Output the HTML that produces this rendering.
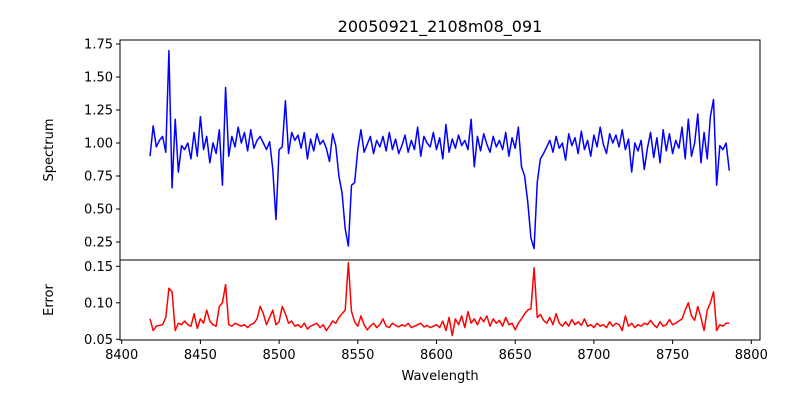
<!DOCTYPE html>
<html><head><meta charset="utf-8"><style>
html,body{margin:0;padding:0;background:#fff;}
svg{display:block;font-family:"DejaVu Sans","Liberation Sans",sans-serif;}
</style></head><body>
<svg id="chart" width="800" height="400" xmlns="http://www.w3.org/2000/svg">
<rect width="800" height="400" fill="#fff"/>
<text x="440" y="32" text-anchor="middle" font-size="16">20050921_2108m08_091</text>
<g id="topPanel"></g>
<g id="botPanel"></g>
<text transform="translate(53,150) rotate(-90)" text-anchor="middle" font-size="13">Spectrum</text>
<text transform="translate(53,300) rotate(-90)" text-anchor="middle" font-size="13">Error</text>
<text x="440" y="380" text-anchor="middle" font-size="13">Wavelength</text>
</svg>
<script>
const wlStart = 8418;
const wlStep = 2;
const spectrum = [
0.90,1.13,0.97,1.02,1.05,0.93,1.70,0.66,1.18,0.78,
0.98,0.95,1.00,0.88,1.08,0.90,1.20,0.95,1.05,0.85,
1.00,0.92,1.10,0.68,1.42,0.90,1.05,0.97,1.12,1.00,
1.08,0.94,1.10,0.96,1.02,1.05,1.00,0.95,1.01,0.80,
0.42,0.95,0.97,1.32,0.92,1.08,1.02,1.06,0.96,1.08,
0.88,1.03,0.94,1.07,0.99,1.02,0.96,0.86,1.07,0.98,
0.75,0.62,0.35,0.22,0.68,0.70,0.95,1.10,0.93,0.99,
1.05,0.92,1.02,0.97,1.05,0.94,1.08,0.95,1.03,0.92,
0.98,1.06,0.93,1.02,0.95,1.12,0.90,1.05,1.00,0.97,
1.08,0.95,1.04,0.88,1.14,0.93,1.03,0.96,1.06,0.98,
1.02,0.95,1.18,0.82,1.05,0.94,1.07,0.99,0.93,1.05,
0.97,1.02,0.95,1.08,0.90,1.04,0.96,1.12,0.82,0.75,
0.55,0.28,0.20,0.70,0.88,0.92,0.97,1.02,0.93,1.05,
0.96,1.00,0.87,1.07,0.98,1.04,0.92,1.09,0.95,1.02,
0.90,1.06,0.97,1.12,0.99,0.92,1.07,1.00,1.06,0.97,
1.10,0.95,1.03,0.78,1.00,0.94,1.02,0.80,0.96,1.08,
0.89,1.04,0.85,1.10,0.94,1.07,0.92,1.02,0.96,1.12,
0.88,1.18,0.90,1.00,1.22,0.85,1.08,0.88,1.20,1.33,
0.68,0.98,0.95,1.00,0.79];
const errors = [
0.078,0.062,0.068,0.069,0.070,0.080,0.120,0.115,0.062,0.072,
0.070,0.075,0.070,0.068,0.085,0.065,0.078,0.072,0.090,0.075,
0.070,0.068,0.095,0.100,0.125,0.070,0.068,0.072,0.070,0.068,
0.070,0.066,0.070,0.072,0.078,0.095,0.085,0.070,0.080,0.090,
0.070,0.074,0.095,0.085,0.072,0.075,0.068,0.070,0.066,0.072,
0.064,0.068,0.070,0.072,0.066,0.070,0.062,0.068,0.075,0.072,
0.080,0.085,0.090,0.155,0.088,0.074,0.068,0.082,0.070,0.063,
0.068,0.072,0.066,0.070,0.078,0.068,0.066,0.072,0.069,0.067,
0.070,0.068,0.072,0.066,0.068,0.070,0.072,0.067,0.069,0.066,
0.068,0.070,0.066,0.075,0.062,0.080,0.055,0.078,0.070,0.082,
0.066,0.088,0.072,0.078,0.070,0.080,0.074,0.082,0.068,0.078,
0.072,0.076,0.068,0.080,0.070,0.072,0.063,0.072,0.078,0.085,
0.090,0.092,0.148,0.080,0.084,0.076,0.072,0.080,0.070,0.085,
0.072,0.068,0.074,0.068,0.077,0.070,0.074,0.069,0.078,0.068,
0.070,0.066,0.072,0.068,0.070,0.066,0.074,0.068,0.072,0.070,
0.062,0.082,0.068,0.072,0.066,0.070,0.068,0.072,0.070,0.076,
0.070,0.066,0.074,0.068,0.070,0.077,0.070,0.072,0.075,0.078,
0.090,0.100,0.082,0.076,0.095,0.080,0.062,0.090,0.100,0.115,
0.062,0.070,0.068,0.072,0.072];
const xTicks = [8400,8450,8500,8550,8600,8650,8700,8750,8800];
const topTicks = [0.25,0.50,0.75,1.00,1.25,1.50,1.75];
const botTicks = [0.05,0.10,0.15];

const NS = "http://www.w3.org/2000/svg";
const L = 120, R = 760, T = 40, M = 260, B = 340;
const xScale = w => 121.7 + (w - 8400) * (751.3 - 121.7) / 400;
const yTop = v => 44 + (1.75 - v) * (242 - 44) / 1.5;
const yBot = v => 339.3 + (0.05 - v) * (339.3 - 266.3) / 0.10;

function mk(tag, attrs, parent) {
  const e = document.createElementNS(NS, tag);
  for (const k in attrs) e.setAttribute(k, attrs[k]);
  parent.appendChild(e);
  return e;
}
const topG = document.getElementById('topPanel');
const botG = document.getElementById('botPanel');

function series(arr, ys, color, parent, name) {
  const pts = arr.map((v, i) => xScale(wlStart + i * wlStep).toFixed(2) + ',' + ys(v).toFixed(2)).join(' ');
  const p = mk('polyline', {points: pts, fill: 'none', stroke: color, 'stroke-width': 1.5, 'stroke-linejoin': 'round'}, parent);
  
  
}
series(spectrum, yTop, '#0000ff', topG, 'spectrum-line');
series(errors, yBot, '#ff0000', botG, 'error-line');

const f1 = mk('rect', {x: L, y: T, width: R - L, height: M - T, fill: 'none', stroke: '#000', 'stroke-width': 1}, topG);


const f2 = mk('rect', {x: L, y: M, width: R - L, height: B - M, fill: 'none', stroke: '#000', 'stroke-width': 1}, botG);



topTicks.forEach(v => {
  const y = yTop(v);
  const t = mk('line', {x1: L - 4, x2: L, y1: y, y2: y, stroke: '#000'}, topG);
  
  
  const tx = mk('text', {x: L - 7, y: y + 4.5, 'text-anchor': 'end', 'font-size': 13}, topG);
  tx.textContent = v.toFixed(2);
  
  
});
botTicks.forEach(v => {
  const y = yBot(v);
  const t = mk('line', {x1: L - 4, x2: L, y1: y, y2: y, stroke: '#000'}, botG);
  
  
  const tx = mk('text', {x: L - 7, y: y + 4.5, 'text-anchor': 'end', 'font-size': 13}, botG);
  tx.textContent = v.toFixed(2);
  
  
});
xTicks.forEach(w => {
  const x = xScale(w);
  const t = mk('line', {x1: x, x2: x, y1: B, y2: B + 4, stroke: '#000'}, botG);
  
  
  const tx = mk('text', {x: x, y: B + 19, 'text-anchor': 'middle', 'font-size': 13}, botG);
  tx.textContent = String(w);
  
  
});
</script>
</body></html>
